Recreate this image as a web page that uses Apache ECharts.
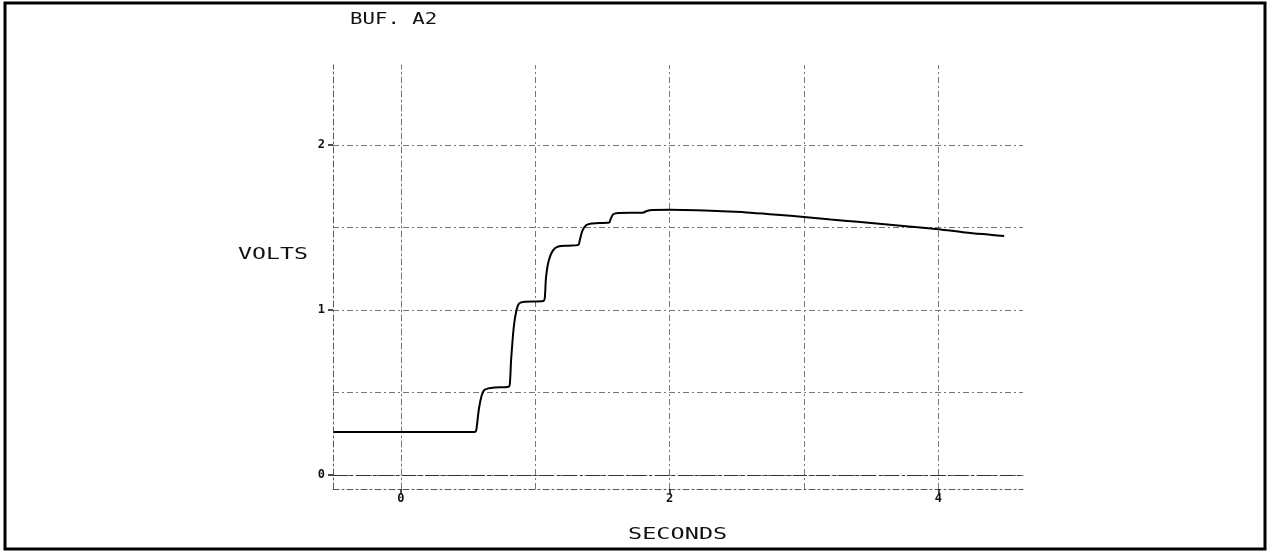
<!DOCTYPE html>
<html>
<head>
<meta charset="utf-8">
<script src="https://cdn.jsdelivr.net/npm/echarts@6/dist/echarts.min.js"></script>
<style>
  html, body { margin: 0; padding: 0; background: #fff; }
  #chart { width: 1268px; height: 552px; }
</style>
</head>
<body>
<div id="chart"></div>
<script>
// trace: time (s) and voltage (V)
const seconds = [-0.5, 0.0, 0.55, 0.56, 0.58, 0.60, 0.62, 0.65, 0.70, 0.80,
  0.81, 0.82, 0.84, 0.86, 0.88, 0.92, 1.06, 1.07, 1.08, 1.10,
  1.13, 1.17, 1.25, 1.32, 1.33, 1.35, 1.38, 1.42, 1.55, 1.56,
  1.58, 1.62, 1.80, 1.83, 1.87, 2.0, 2.2, 2.4, 2.6, 2.8,
  3.0, 3.2, 3.4, 3.6, 3.8, 4.0, 4.2, 4.4, 4.49];
const volts = [0.26, 0.26, 0.26, 0.27, 0.40, 0.48, 0.515, 0.525, 0.53, 0.535,
  0.55, 0.70, 0.90, 1.00, 1.04, 1.05, 1.055, 1.07, 1.20, 1.30,
  1.36, 1.385, 1.39, 1.395, 1.42, 1.48, 1.515, 1.525, 1.53, 1.55,
  1.58, 1.588, 1.59, 1.60, 1.606, 1.607, 1.605, 1.598, 1.59, 1.578,
  1.563, 1.548, 1.535, 1.52, 1.505, 1.49, 1.47, 1.455, 1.448];

const xTickLabels = [0, 2, 4];
const yTickLabels = [0, 1, 2];
const xGrid = [0, 1, 2, 3, 4];
const yGrid = [0, 0.5, 1, 1.5, 2];

const dashDot = [6, 3, 2, 3];
const mono = 'DejaVu Sans Mono';

let myChart = echarts.init(document.getElementById('chart'));

let frameAxis = {
  axisLine: { show: true, lineStyle: { color: '#666', width: 1, type: dashDot } },
  axisTick: { show: false },
  axisLabel: { show: false },
  splitLine: { show: false }
};

myChart.setOption({
  animation: false,
  backgroundColor: '#fff',
  grid: { left: 333, right: 245, top: 65, bottom: 63 },
  xAxis: [
    {
      type: 'value',
      min: -0.506,
      max: 4.63,
      axisLine: { show: true, onZero: false, lineStyle: { color: '#555', width: 1, type: dashDot } },
      axisTick: { show: true, customValues: xTickLabels, length: 5, lineStyle: { color: '#111', width: 1.5 } },
      axisLabel: {
        show: true, customValues: xTickLabels, margin: 4,
        fontFamily: mono, fontSize: 12, fontWeight: 'bold', color: '#111'
      },
      splitLine: { show: false }
    },
    Object.assign({ type: 'value', position: 'top', min: -0.506, max: 4.63 }, frameAxis)
  ],
  yAxis: [
    {
      type: 'value',
      min: -0.085,
      max: 2.485,
      axisLine: { show: true, onZero: false, lineStyle: { color: '#555', width: 1, type: dashDot } },
      axisTick: { show: true, customValues: yTickLabels, length: 5, lineStyle: { color: '#111', width: 1.5 } },
      axisLabel: {
        show: true, customValues: yTickLabels, margin: 8,
        fontFamily: mono, fontSize: 12, fontWeight: 'bold', color: '#111'
      },
      splitLine: { show: false }
    },
    Object.assign({ type: 'value', position: 'right', min: -0.085, max: 2.485 }, frameAxis)
  ],
  series: [
    {
      type: 'line',
      data: seconds.map((t, i) => [t, volts[i]]),
      showSymbol: false,
      smooth: 0.3,
      lineStyle: { color: '#000', width: 2 },
      z: 5,
      markLine: {
        silent: true,
        symbol: 'none',
        label: { show: false },
        lineStyle: { color: '#777', width: 1, type: dashDot },
        data: xGrid.map(v => ({ xAxis: v }))
          .concat(yGrid.map(v => ({
            yAxis: v,
            lineStyle: v === 0 ? { color: '#333', width: 1.2, type: [14, 3, 3, 3] } : undefined
          })))
      }
    }
  ],
  graphic: [
    {
      type: 'rect',
      shape: { x: 5, y: 3, width: 1260, height: 546 },
      style: { fill: 'none', stroke: '#000', lineWidth: 3 }
    },
    {
      type: 'text', x: 350, y: 20, scaleX: 1.38,
      style: { text: 'BUF. A2', font: '15px "DejaVu Sans Mono"', fill: '#111', verticalAlign: 'middle' }
    },
    {
      type: 'text', x: 238, y: 255, scaleX: 1.55,
      style: { text: 'VOLTS', font: '15px "DejaVu Sans Mono"', fill: '#111', verticalAlign: 'middle' }
    },
    {
      type: 'text', x: 628, y: 535, scaleX: 1.57,
      style: { text: 'SECONDS', font: '15px "DejaVu Sans Mono"', fill: '#111', verticalAlign: 'middle' }
    }
  ]
});
</script>
</body>
</html>
